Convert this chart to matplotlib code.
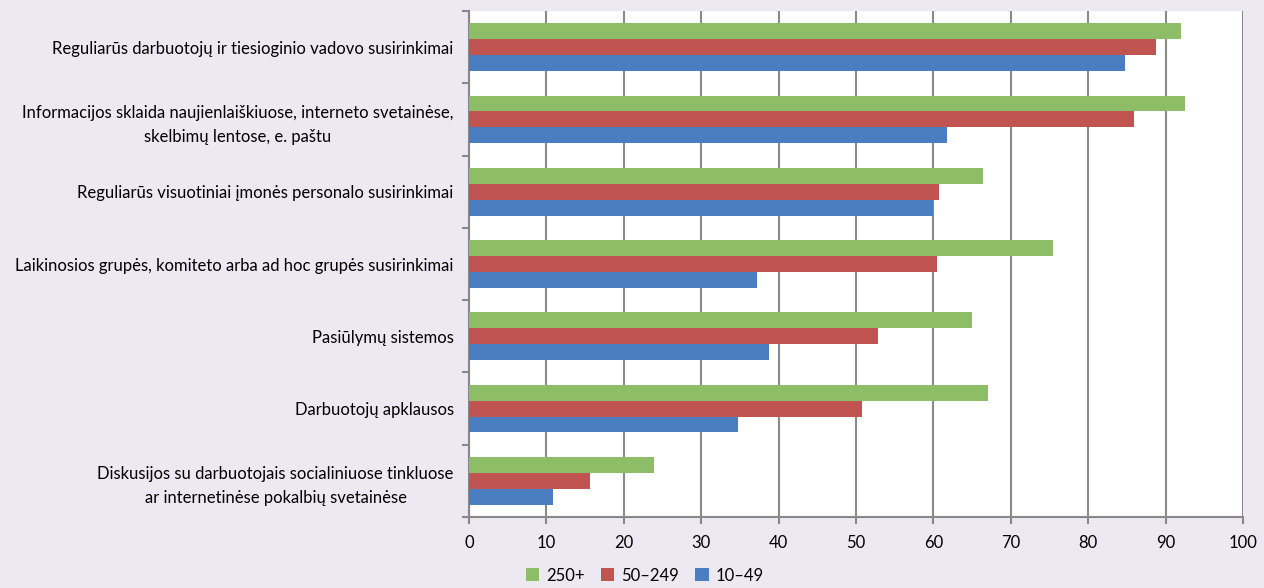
import numpy as np
import matplotlib; matplotlib.use("Agg"); import matplotlib.pyplot as plt

categories = [
    "Reguliarūs darbuotojų ir tiesioginio vadovo susirinkimai",
    "Informacijos sklaida naujienlaiškiuose, interneto svetainėse,\nskelbimų lentose, e. paštu",
    "Reguliarūs visuotiniai įmonės personalo susirinkimai",
    "Laikinosios grupės, komiteto arba ad hoc grupės susirinkimai",
    "Pasiūlymų sistemos",
    "Darbuotojų apklausos",
    "Diskusijos su darbuotojais socialiniuose tinkluose\nar internetinėse pokalbių svetainėse",
]
series_names = ["250+", "50–249", "10–49"]
v_250 = [92.0, 92.5, 66.4, 75.5, 65.0, 67.1, 23.9]
v_50_249 = [88.8, 85.9, 60.7, 60.5, 52.8, 50.8, 15.6]
v_10_49 = [84.8, 61.7, 59.9, 37.2, 38.7, 34.7, 10.8]
colors = ["#8EBD68", "#BF5451", "#4A7EC0"]

plt.rcParams["font.family"] = ["Lato", "DejaVu Sans"]
bg = "#ECE9F3"
fig = plt.figure(figsize=(12.64, 5.88), dpi=100, facecolor=bg)
ax = fig.add_axes([469/1264, 1-517/588, (1243-469)/1264, (517-11)/588])
ax.set_facecolor("white")

n = len(categories)
y = np.arange(n)
h = 0.22
for k, (vals, c, name) in enumerate(zip([v_250, v_50_249, v_10_49], colors, series_names)):
    ax.barh(y + (k - 1) * h, vals, height=h, color=c, label=name, zorder=3)

ax.set_ylim(n - 0.5, -0.5)
ax.set_xlim(0, 100)
ax.set_xticks(np.arange(0, 101, 10))
ax.set_yticks(y)
ax.set_yticklabels(categories, multialignment="center", fontsize=12, linespacing=1.6)
ax.set_yticks(np.arange(-0.5, n, 1), minor=True)
ax.tick_params(axis="y", which="major", length=0, pad=11)
ax.tick_params(axis="y", which="minor", length=5, width=1.5, color="#888888")
ax.tick_params(axis="x", length=5, width=1.5, color="#888888", labelsize=12, pad=8)
ax.grid(axis="x", color="#8A8A8A", lw=1.5, zorder=0)
for s in ["top", "right"]:
    ax.spines[s].set_visible(False)
for s in ["left", "bottom"]:
    ax.spines[s].set_color("#888888"); ax.spines[s].set_linewidth(1.5)

fig.legend(loc="lower center", bbox_to_anchor=(0.51, -0.018), ncol=3, frameon=False,
           fontsize=12, handlelength=0.8, handleheight=0.8, columnspacing=1.0, handletextpad=0.4)
fig.savefig("out.png", facecolor=bg)
